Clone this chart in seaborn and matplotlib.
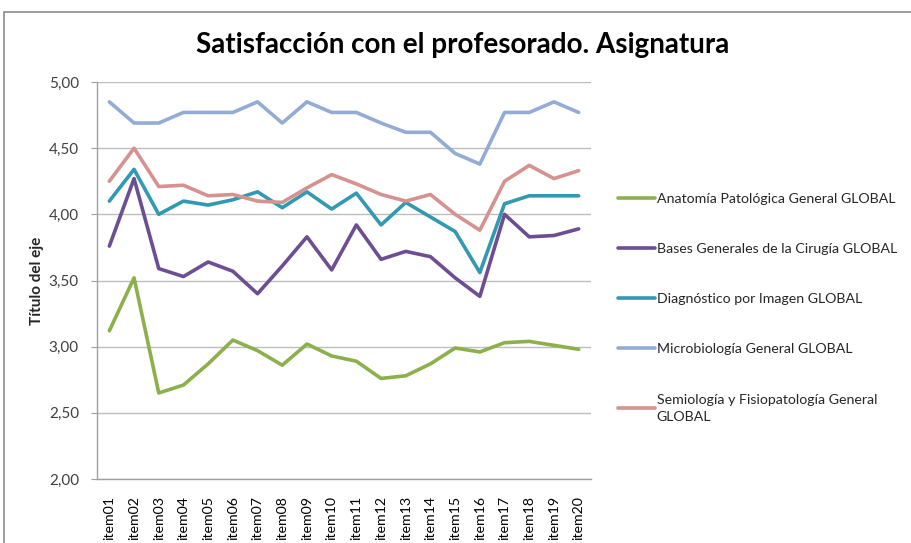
import numpy as np
import pandas as pd
import matplotlib
matplotlib.use("Agg")
import matplotlib.pyplot as plt
import seaborn as sns
from matplotlib.patches import Rectangle

items = [f"item{i:02d}" for i in range(1, 21)]
anatomia = [3.12, 3.52, 2.65, 2.71, 2.87, 3.05, 2.97, 2.86, 3.02, 2.93,
            2.89, 2.76, 2.78, 2.87, 2.99, 2.96, 3.03, 3.04, 3.01, 2.98]
bases = [3.76, 4.27, 3.59, 3.53, 3.64, 3.57, 3.40, 3.61, 3.83, 3.58,
         3.92, 3.66, 3.72, 3.68, 3.52, 3.38, 4.00, 3.83, 3.84, 3.89]
diagnostico = [4.10, 4.34, 4.00, 4.10, 4.07, 4.11, 4.17, 4.05, 4.17, 4.04,
               4.16, 3.92, 4.09, 3.98, 3.87, 3.56, 4.08, 4.14, 4.14, 4.14]
microbiologia = [4.85, 4.69, 4.69, 4.77, 4.77, 4.77, 4.85, 4.69, 4.85, 4.77,
                 4.77, 4.69, 4.62, 4.62, 4.46, 4.38, 4.77, 4.77, 4.85, 4.77]
semiologia = [4.25, 4.50, 4.21, 4.22, 4.14, 4.15, 4.10, 4.09, 4.20, 4.30,
              4.23, 4.15, 4.10, 4.15, 4.00, 3.88, 4.25, 4.37, 4.27, 4.33]
series_names = ["Anatomía Patológica General GLOBAL",
                "Bases Generales de la Cirugía GLOBAL",
                "Diagnóstico por Imagen GLOBAL",
                "Microbiología General GLOBAL",
                "Semiología y Fisiopatología General\nGLOBAL"]
y_ticks = [2.0, 2.5, 3.0, 3.5, 4.0, 4.5, 5.0]

colors = ["#8DB04C", "#6E4E93", "#3399B3", "#93ACD6", "#D69290"]

rows = []
for name, vals in zip(series_names, [anatomia, bases, diagnostico, microbiologia, semiologia]):
    for i, v in enumerate(vals):
        rows.append({"item": items[i], "pos": i, "serie": name, "valor": v})
df = pd.DataFrame(rows)

sns.set_theme(style="white")
plt.rcParams['font.family'] = ['Lato', 'DejaVu Sans']

fig = plt.figure(figsize=(9.11, 5.43), dpi=100)
W, H = 911, 543
ax = fig.add_axes([97 / W, 1 - 479 / H, (591 - 97) / W, (479 - 82) / H])

sns.lineplot(data=df, x="pos", y="valor", hue="serie", palette=colors,
             hue_order=series_names, linewidth=2.6, ax=ax, sort=False)

ax.set_xlim(-0.5, 19.5)
ax.set_ylim(2.0, 5.0)
ax.set_yticks(y_ticks)
ax.set_yticklabels([f"{t:.2f}".replace(".", ",") for t in y_ticks], fontsize=11, color="#404040")
ax.set_xticks(range(len(items)))
ax.set_xticklabels(items, rotation=90, fontsize=10.2, color="#000000")
ax.tick_params(axis="x", length=0, pad=12)
ax.tick_params(axis="y", length=4, width=0.8, color="#A0A0A0", direction="out", left=True, pad=9)
ax.yaxis.grid(True, color="#BDBDBD", linewidth=1.0)
ax.xaxis.grid(False)
ax.set_axisbelow(True)
for s in ["top", "right"]:
    ax.spines[s].set_visible(False)
for s in ["left", "bottom"]:
    ax.spines[s].set_color("#A0A0A0")
    ax.spines[s].set_linewidth(1.0)
ax.set_xlabel("")
ax.set_ylabel("Título del eje", fontsize=11, fontweight="bold")
ax.yaxis.set_label_coords(-0.107, 0.5)

fig.text(463 / W, 1 - 45 / H, "Satisfacción con el profesorado. Asignatura",
         ha="center", va="center", fontsize=20, fontweight="bold", color="#000000")

handles, labels = ax.get_legend_handles_labels()
leg = ax.legend(handles, labels, loc="upper left", bbox_to_anchor=(612 / W, 1 - 187 / H),
                bbox_transform=fig.transFigure, frameon=False, fontsize=10.2,
                handlelength=2.6, handletextpad=0.15, labelspacing=2.7, borderaxespad=0)
leg.get_texts()[4].set_linespacing(1.5)

fig.add_artist(Rectangle((4 / W, -0.1), 1.2, 1 - 12 / H + 0.1, transform=fig.transFigure,
                         fill=False, edgecolor="#8C8C8C", linewidth=1.2))

fig.savefig("out.png", dpi=100)
